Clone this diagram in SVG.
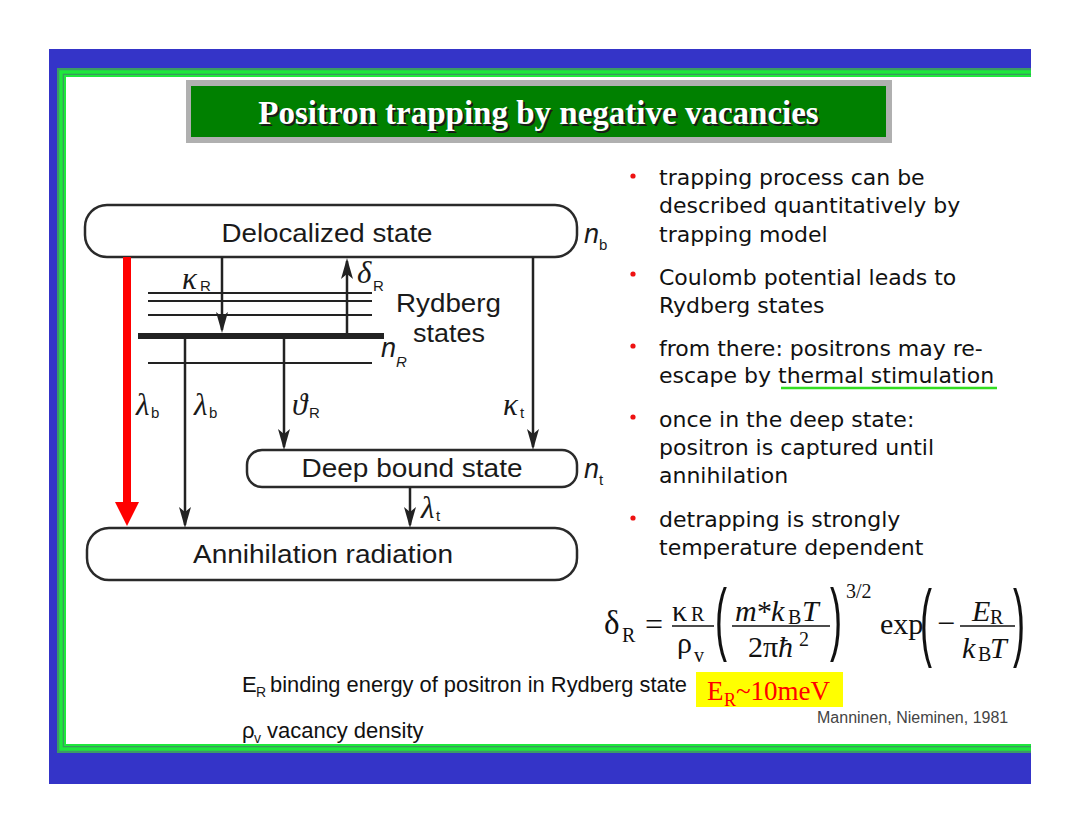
<svg xmlns="http://www.w3.org/2000/svg" width="1080" height="834" viewBox="0 0 1080 834">
<style>
.box{fill:#fff;stroke:#2a2a2a;stroke-width:2.5}
.lbl{font-family:"Liberation Sans",Arial,sans-serif;font-size:26px;fill:#1a1a1a}
.gr{font-family:"Liberation Serif","Times New Roman",serif;font-style:italic;font-size:31px;fill:#1a1a1a}
.sub{font-family:"Liberation Sans",Arial,sans-serif;font-size:15px;fill:#1a1a1a}
.ni{font-family:"Liberation Sans",Arial,sans-serif;font-style:italic;font-size:27px;fill:#1a1a1a}
.ln{stroke:#222;stroke-width:2.5;fill:none}
.lv{stroke:#222;stroke-width:2;fill:none}
.bt{font-family:"DejaVu Sans","Noto Sans",sans-serif;font-size:22px;fill:#111}
.dot{fill:#ee1111}
.fm{font-family:"Liberation Serif","Times New Roman",serif;font-size:30px;fill:#111}
.fs{font-family:"Liberation Serif","Times New Roman",serif;font-size:20px;fill:#111}
.par{font-family:"Liberation Sans",Arial,sans-serif;font-size:36px;fill:#111}
.it{font-style:italic}
.note{font-family:"Liberation Sans",Arial,sans-serif;font-size:22px;fill:#111}
</style>
<defs>
<marker id="ah" markerUnits="userSpaceOnUse" viewBox="-22 -7 24 14" markerWidth="24" markerHeight="14" refX="-3" refY="0" orient="auto">
<path d="M0,0 L-21,-6 L-16,0 L-21,6 Z" fill="#222"/>
</marker>
</defs>
<rect x="0" y="0" width="1080" height="834" fill="#fff"/>
<g id="frame">
<rect x="49" y="49" width="982" height="735" fill="#3434c8"/>
<rect x="57" y="68" width="990" height="685" fill="#3c9a64"/>
<rect x="59.3" y="70.3" width="990" height="680.4" fill="#1ee83c"/>
<rect x="62.7" y="73.7" width="990" height="673.6" fill="#3a9a5e"/>
<rect x="64" y="75" width="990" height="671" fill="#1ee83c"/>
<rect x="66" y="77" width="990" height="667" fill="#fff"/>
<rect x="1031" y="40" width="49" height="760" fill="#fff"/>
</g>
<g id="title">
<rect x="186" y="80" width="706" height="63" fill="#b0b0b0"/>
<rect x="191" y="86" width="695" height="51" fill="#008000"/>
<text x="540.5" y="126" text-anchor="middle" font-family="'Liberation Serif','Times New Roman',serif" font-weight="bold" font-size="33" fill="#1a1a1a">Positron trapping by negative vacancies</text>
<text x="538.5" y="124" text-anchor="middle" font-family="'Liberation Serif','Times New Roman',serif" font-weight="bold" font-size="33" fill="#fff">Positron trapping by negative vacancies</text>
</g>
<g id="node-delocalized">
<rect class="box" x="85" y="205" width="492" height="52" rx="22"/>
<text class="lbl" x="327" y="242" text-anchor="middle" textLength="211" lengthAdjust="spacingAndGlyphs">Delocalized state</text>
<text class="ni" x="584" y="243">n</text><text class="sub" x="599" y="250">b</text>
</g>
<g id="node-rydberg">
<line class="lv" x1="148" y1="293" x2="372" y2="293"/>
<line class="lv" x1="148" y1="301" x2="372" y2="301"/>
<line class="lv" x1="148" y1="315" x2="372" y2="315"/>
<line x1="138" y1="336" x2="384" y2="336" stroke="#222" stroke-width="6"/>
<line class="lv" x1="148" y1="363" x2="372" y2="363"/>
<text class="lbl" x="396" y="312" textLength="105" lengthAdjust="spacingAndGlyphs">Rydberg</text>
<text class="lbl" x="413" y="342" textLength="72" lengthAdjust="spacingAndGlyphs">states</text>
<text class="ni" x="381" y="357">n</text><text class="sub it" x="396" y="367">R</text>
</g>
<g id="node-deep">
<rect class="box" x="247" y="450" width="330" height="37" rx="15"/>
<text class="lbl" x="412" y="477" text-anchor="middle" textLength="221" lengthAdjust="spacingAndGlyphs">Deep bound state</text>
<text class="ni" x="584" y="478">n</text><text class="sub" x="599" y="485">t</text>
</g>
<g id="node-annihilation">
<rect class="box" x="87" y="528" width="490" height="52" rx="22"/>
<text class="lbl" x="323" y="563" text-anchor="middle" textLength="260" lengthAdjust="spacingAndGlyphs">Annihilation radiation</text>
</g>
<g id="connectors">
<line x1="127" y1="257" x2="127" y2="505" stroke="#ff0000" stroke-width="8"/>
<path d="M127,526 L115,502 L139,502 Z" fill="#ff0000"/>
<line class="ln" x1="222" y1="257" x2="222" y2="330" marker-end="url(#ah)"/>
<line class="ln" x1="347" y1="333" x2="347" y2="261" marker-end="url(#ah)"/>
<line class="ln" x1="185" y1="339" x2="185" y2="525" marker-end="url(#ah)"/>
<line class="ln" x1="284" y1="339" x2="284" y2="447" marker-end="url(#ah)"/>
<line class="ln" x1="533" y1="257" x2="533" y2="447" marker-end="url(#ah)"/>
<line class="ln" x1="410" y1="487" x2="410" y2="525" marker-end="url(#ah)"/>
</g>
<g id="labels">
<text class="gr" x="182" y="289">κ</text><text class="sub" x="200" y="291">R</text>
<text class="gr" x="357" y="283">δ</text><text class="sub" x="373" y="291">R</text>
<text class="gr" x="136" y="415">λ</text><text class="sub" x="151" y="418">b</text>
<text class="gr" x="194" y="415">λ</text><text class="sub" x="209" y="418">b</text>
<text class="gr" x="292" y="415">ϑ</text><text class="sub" x="309" y="418">R</text>
<text class="gr" x="503" y="415">κ</text><text class="sub" x="520" y="418">t</text>
<text class="gr" x="421" y="518">λ</text><text class="sub" x="436" y="521">t</text>
</g>
<g id="bullets">
<circle class="dot" cx="633" cy="176" r="2.6"/>
<text class="bt" x="659" y="185">trapping process can be</text>
<text class="bt" x="659" y="213">described quantitatively by</text>
<text class="bt" x="659" y="242">trapping model</text>
<circle class="dot" cx="633" cy="274" r="2.6"/>
<text class="bt" x="659" y="285">Coulomb potential leads to</text>
<text class="bt" x="659" y="313">Rydberg states</text>
<circle class="dot" cx="633" cy="346" r="2.6"/>
<text class="bt" x="659" y="356">from there: positrons may re-</text>
<text class="bt" x="659" y="383">escape by thermal stimulation</text>
<line x1="781" y1="388" x2="997" y2="388" stroke="#33dd22" stroke-width="2.5"/>
<circle class="dot" cx="633" cy="417" r="2.6"/>
<text class="bt" x="659" y="427">once in the deep state:</text>
<text class="bt" x="659" y="455">positron is captured until</text>
<text class="bt" x="659" y="483">annihilation</text>
<circle class="dot" cx="633" cy="518" r="2.6"/>
<text class="bt" x="659" y="527">detrapping is strongly</text>
<text class="bt" x="659" y="555">temperature dependent</text>
</g>
<g id="formula">
<text class="fm" x="604" y="634" style="font-size:33px">δ</text>
<text class="fs" x="622" y="642">R</text>
<text class="fm" x="645" y="635" style="font-size:32px">=</text>
<text class="fm" x="672" y="621">κ</text>
<text class="fs" x="691" y="621">R</text>
<line x1="672" y1="626" x2="714" y2="626" stroke="#111" stroke-width="1.5"/>
<text class="fm" x="677" y="653">ρ</text>
<text class="fs" x="694" y="662">v</text>
<text class="par" transform="translate(715,645.4) scale(1,2.19)">(</text>
<text class="fm it" x="735" y="621">m</text>
<text class="fm" x="757" y="621">*</text>
<text class="fm it" x="771" y="621">k</text>
<text class="fs" x="788" y="624">B</text>
<text class="fm it" x="802" y="621">T</text>
<line x1="732" y1="626" x2="830" y2="626" stroke="#111" stroke-width="1.5"/>
<text class="fm" x="748" y="657">2π</text>
<text class="fm it" x="778" y="657">ħ</text>
<text class="fs" x="799" y="646">2</text>
<text class="par" transform="translate(830,645.4) scale(1,2.19)">)</text>
<text class="fs" x="846" y="598">3/2</text>
<text class="fm" x="880" y="634">exp</text>
<text class="par" transform="translate(920,650) scale(1,2.36)">(</text>
<text class="fm" x="937" y="634" style="font-size:32px">−</text>
<text class="fm it" x="972" y="621">E</text>
<text class="fs" x="990" y="624">R</text>
<line x1="960" y1="626" x2="1015" y2="626" stroke="#111" stroke-width="1.5"/>
<text class="fm it" x="962" y="658">k</text>
<text class="fs" x="978" y="661">B</text>
<text class="fm it" x="990" y="658">T</text>
<text class="par" transform="translate(1013,650) scale(1,2.36)">)</text>
</g>
<g id="notes">
<text class="note" x="242" y="692">E</text><text class="sub" x="256" y="697" style="font-size:14px">R</text>
<text class="note" x="270" y="692" textLength="417" lengthAdjust="spacingAndGlyphs">binding energy of positron in Rydberg state</text>
<rect x="696" y="672" width="147" height="35" fill="#ffff00"/>
<text x="707" y="700" font-family="'Liberation Serif','Times New Roman',serif" font-size="27" fill="#ff0000">E</text>
<text x="724" y="706" font-family="'Liberation Serif','Times New Roman',serif" font-size="18" fill="#ff0000">R</text>
<text x="736" y="700" font-family="'Liberation Serif','Times New Roman',serif" font-size="27" fill="#ff0000">~10meV</text>
<text x="817" y="723" font-family="'Liberation Sans',Arial,sans-serif" font-size="16" fill="#444">Manninen, Nieminen, 1981</text>
<text class="note" x="242" y="738">ρ</text><text class="sub" x="254" y="743" style="font-size:14px">v</text>
<text class="note" x="267" y="738">vacancy density</text>
</g>
</svg>
